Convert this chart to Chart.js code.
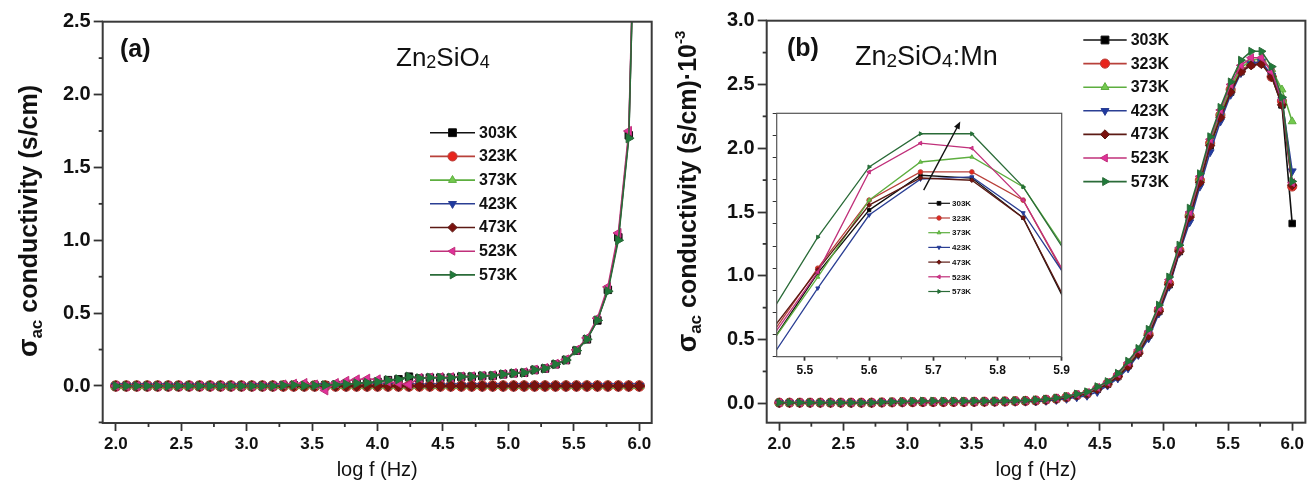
<!DOCTYPE html>
<html><head><meta charset="utf-8">
<script src="https://cdn.jsdelivr.net/npm/chart.js@4.4.1/dist/chart.umd.min.js"></script>
<style>
html,body{margin:0;padding:0;background:#fff;}
#wrap{position:relative;width:1311px;height:488px;overflow:hidden;background:#fff;}
canvas{position:absolute;}
</style></head><body>
<div id="wrap">
<canvas id="ca" width="660" height="488" style="left:0;top:0"></canvas>
<canvas id="cb" width="651" height="488" style="left:660px;top:0"></canvas>
<canvas id="ci" width="310" height="285" style="left:770px;top:105px"></canvas>
</div>
<script>
// ---------------- DATA ----------------
const temps = ['303K','323K','373K','423K','473K','523K','573K'];
const logF = [2.00,2.08,2.16,2.24,2.32,2.40,2.48,2.56,2.64,2.72,2.80,2.88,2.96,3.04,3.12,3.20,3.28,3.36,3.44,3.52,3.60,3.68,3.76,3.84,3.92,4.00,4.08,4.16,4.24,4.32,4.40,4.48,4.56,4.64,4.72,4.80,4.88,4.96,5.04,5.12,5.20,5.28,5.36,5.44,5.52,5.60,5.68,5.76,5.84,5.92,6.00];

// panel (a) Zn2SiO4, sigma_ac (s/cm)
const a303 = [0,0,0,0,0,0,0,0,0,0,0,0,0,0,0,0,0.004,0.005,0.002,0.003,0.005,0.008,0.012,0.018,0.022,0.028,0.040,0.046,0.064,0.053,0.057,0.057,0.057,0.064,0.064,0.069,0.071,0.080,0.087,0.091,0.110,0.120,0.149,0.178,0.243,0.320,0.450,0.660,1.02,1.72,4.50];
const a323 = [0,0,0,0,0,0,0,0,0,0,0,0,0,0,0,0,0,0,0,0,0,0,0,0,0,0,0,0,0,0,0,0,0,0,0,0,0,0,0,0,0,0,0,0,0,0,0,0,0,0,0];
const a373 = [0,0,0,0,0,0,0,0,0,0,0,0,0,0,0,0,0,0,0,0,0,0,0,0,0,0,0,0,0,0,0,0,0,0,0,0,0,0,0,0,0,0,0,0,0,0,0,0,0,0,0];
const a423 = [0,0,0,0,0,0,0,0,0,0,0,0,0,0,0,0,0,0,0,0,0,0,0,0,0,0,0,0,0,0,0,0,0,0,0,0,0,0,0,0,0,0,0,0,0,0,0,0,0,0,0];
const a473 = [0,0,0,0,0,0,0,0,0,0,0,0,0,0,0,0,0,0,0,0,0,0,0,0,0,0,0,0,0,0,0,0,0,0,0,0,0,0,0,0,0,0,0,0,0,0,0,0,0,0,0];
const a523 = [0,0,0,0,0,0,0,0,0,0,0,0,0,0,0,0,0.010,0.015,0.020,0.010,-0.030,0.020,0.035,0.045,0.050,0.045,0.030,0.020,0.010,0.055,0.058,0.060,0.060,0.065,0.066,0.070,0.073,0.082,0.089,0.094,0.112,0.123,0.152,0.182,0.248,0.330,0.465,0.680,1.05,1.75,4.60];
const a573 = [0,0,0,0,0,0,0,0,0,0,0,0,0,0,0,0,0.004,0.006,0.002,0.003,0.005,0.008,0.012,0.018,0.022,0.028,0.040,0.046,0.064,0.053,0.057,0.057,0.057,0.064,0.064,0.069,0.071,0.080,0.087,0.091,0.110,0.120,0.149,0.178,0.243,0.320,0.450,0.650,1.00,1.70,4.50];

// panel (b) Zn2SiO4:Mn, sigma_ac (s/cm)·10^-3
const b303 = [0.004,0.004,0.004,0.004,0.004,0.004,0.004,0.004,0.004,0.004,0.006,0.007,0.008,0.008,0.009,0.009,0.009,0.010,0.010,0.011,0.012,0.013,0.014,0.016,0.018,0.021,0.027,0.035,0.046,0.062,0.075,0.11,0.15,0.21,0.295,0.395,0.535,0.72,0.93,1.19,1.46,1.74,2.02,2.25,2.44,2.60,2.66,2.67,2.56,2.34,1.41];
const b323 = [0.005,0.005,0.005,0.005,0.005,0.005,0.005,0.005,0.005,0.005,0.007,0.008,0.009,0.009,0.010,0.010,0.010,0.011,0.011,0.012,0.013,0.014,0.015,0.017,0.019,0.022,0.028,0.036,0.047,0.063,0.075,0.115,0.155,0.215,0.30,0.40,0.54,0.73,0.94,1.20,1.47,1.75,2.04,2.26,2.46,2.61,2.66,2.67,2.56,2.37,1.70];
const b373 = [0.005,0.005,0.005,0.005,0.005,0.005,0.005,0.005,0.005,0.005,0.007,0.008,0.009,0.010,0.010,0.011,0.011,0.011,0.012,0.012,0.013,0.014,0.015,0.017,0.019,0.023,0.029,0.037,0.049,0.066,0.08,0.12,0.16,0.22,0.31,0.41,0.55,0.74,0.95,1.21,1.49,1.76,2.05,2.28,2.47,2.63,2.69,2.70,2.62,2.46,2.21];
const b423 = [0.003,0.003,0.003,0.003,0.003,0.003,0.003,0.003,0.003,0.003,0.005,0.006,0.006,0.007,0.007,0.008,0.008,0.008,0.009,0.009,0.010,0.011,0.012,0.013,0.014,0.015,0.020,0.027,0.036,0.048,0.06,0.09,0.14,0.196,0.275,0.38,0.51,0.705,0.915,1.18,1.42,1.70,1.97,2.21,2.42,2.59,2.66,2.68,2.57,2.38,1.82];
const b473 = [0.004,0.004,0.004,0.004,0.004,0.004,0.004,0.004,0.004,0.004,0.006,0.007,0.008,0.008,0.009,0.009,0.009,0.010,0.010,0.011,0.012,0.013,0.014,0.016,0.018,0.021,0.027,0.035,0.046,0.062,0.075,0.11,0.15,0.21,0.29,0.39,0.53,0.72,0.93,1.19,1.46,1.73,2.02,2.24,2.44,2.60,2.65,2.66,2.56,2.34,1.71];
const b523 = [0.006,0.006,0.006,0.006,0.006,0.006,0.006,0.006,0.006,0.006,0.009,0.010,0.011,0.012,0.013,0.013,0.013,0.013,0.013,0.014,0.015,0.016,0.017,0.019,0.021,0.025,0.031,0.040,0.052,0.070,0.085,0.125,0.165,0.23,0.32,0.42,0.565,0.75,0.97,1.22,1.50,1.78,2.07,2.30,2.50,2.65,2.71,2.71,2.60,2.38,1.73];
const b573 = [0.006,0.006,0.006,0.006,0.006,0.006,0.006,0.006,0.006,0.006,0.010,0.012,0.014,0.016,0.018,0.018,0.018,0.018,0.017,0.017,0.017,0.018,0.019,0.021,0.023,0.027,0.033,0.042,0.055,0.073,0.09,0.13,0.17,0.235,0.33,0.43,0.58,0.77,0.99,1.24,1.53,1.80,2.09,2.32,2.52,2.69,2.76,2.76,2.64,2.40,1.74];

// inset of panel (b): magnified peak region
const insetLogF = [5.44,5.52,5.60,5.68,5.76,5.84,5.92];
const i303 = [2.412,2.551,2.665,2.728,2.723,2.651,2.466];
const i323 = [2.427,2.560,2.683,2.734,2.734,2.683,2.515];
const i373 = [2.412,2.544,2.683,2.752,2.761,2.707,2.569];
const i423 = [2.385,2.524,2.656,2.721,2.725,2.660,2.521];
const i473 = [2.436,2.557,2.674,2.723,2.719,2.651,2.470];
const i523 = [2.421,2.553,2.734,2.786,2.777,2.683,2.519];
const i573 = [2.466,2.616,2.743,2.803,2.803,2.707,2.564];
const insetArrow = {from:[5.685,2.701], to:[5.742,2.825]};

// tick labels
const xTicks = [2.0,2.5,3.0,3.5,4.0,4.5,5.0,5.5,6.0];
const xMinor = [2.25,2.75,3.25,3.75,4.25,4.75,5.25,5.75];
const yTicksA = [0.0,0.5,1.0,1.5,2.0,2.5];
const yMinorA = [-0.25,0.25,0.75,1.25,1.75,2.25];
const yTicksB = [0.0,0.5,1.0,1.5,2.0,2.5,3.0];
const yMinorB = [0.25,0.75,1.25,1.75,2.25,2.75];
const insetXTicks = [5.5,5.6,5.7,5.8,5.9];
const insetXMinor = [5.55,5.65,5.75,5.85];
const insetYTicks = [2.40,2.44,2.48,2.52,2.56,2.60,2.64,2.68,2.72,2.76,2.80,2.84];

// ---------------- STYLE ----------------
const FONT = '"Liberation Sans", Arial, Helvetica, sans-serif';
const lineColors   = ['#111111','#b8403a','#5dae3f','#2b3f94','#5c1a14','#c0307a','#2a6b38'];
const markerColors = ['#000000','#e8241c','#73c94e','#1f3aa0','#7a120e','#e0309a','#1f7a3a'];
const pointStyles  = ['rect','circle','triangle','triangle','rectRot','triangle','triangle'];
const pointRots    = [0,0,0,180,0,-90,90];

function makeSets(xs, series, r, lw){
  return temps.map((t,i)=>({
    label:t,
    data: xs.map((x,k)=>({x:x, y:series[i][k]})),
    borderColor: lineColors[i], backgroundColor: markerColors[i],
    pointBackgroundColor: markerColors[i], pointBorderColor: lineColors[i],
    pointStyle: pointStyles[i], pointRotation: pointRots[i],
    pointRadius: r, pointBorderWidth: 1, borderWidth: lw,
    tension: 0, order: temps.length-1-i
  }));
}

function drawMarker(ctx, style, rot, x, y, r, fill, stroke){
  ctx.save();
  ctx.translate(x,y);
  ctx.rotate(rot*Math.PI/180);
  ctx.beginPath();
  if(style==='circle'){ ctx.arc(0,0,r,0,Math.PI*2); }
  else if(style==='rect'){ const s=r*0.85; ctx.rect(-s,-s,2*s,2*s); }
  else if(style==='rectRot'){ ctx.moveTo(0,-r); ctx.lineTo(r,0); ctx.lineTo(0,r); ctx.lineTo(-r,0); ctx.closePath(); }
  else { for(let k=0;k<3;k++){ const a=k*2*Math.PI/3; const px=Math.sin(a)*r, py=-Math.cos(a)*r; if(k===0)ctx.moveTo(px,py); else ctx.lineTo(px,py);} ctx.closePath(); }
  ctx.fillStyle=fill; ctx.fill();
  ctx.strokeStyle=stroke; ctx.lineWidth=1; ctx.stroke();
  ctx.restore();
}

function drawRich(ctx, it){
  ctx.save();
  ctx.translate(it.x, it.y);
  if(it.rot) ctx.rotate(it.rot*Math.PI/180);
  ctx.textBaseline='alphabetic';
  ctx.fillStyle = it.color || '#111';
  let total=0;
  it.parts.forEach(p=>{ ctx.font=(p.weight||'normal')+' '+p.size+'px '+FONT; p._w=ctx.measureText(p.t).width; total+=p._w; });
  let x = it.align==='center' ? -total/2 : 0;
  it.parts.forEach(p=>{ ctx.font=(p.weight||'normal')+' '+p.size+'px '+FONT; ctx.fillText(p.t, x, p.dy||0); x+=p._w; });
  ctx.restore();
}

const frameTicks = {
  id:'frameTicks',
  beforeDatasetsDraw(chart, args, o){
    if(!o.fill) return;
    const a=chart.chartArea, ctx=chart.ctx;
    ctx.save(); ctx.fillStyle=o.fill; ctx.fillRect(a.left,a.top,a.right-a.left,a.bottom-a.top); ctx.restore();
  },
  afterDraw(chart, args, o){
    const {ctx, chartArea:a, scales} = chart;
    ctx.save();
    ctx.strokeStyle=o.color; ctx.lineWidth=o.width;
    ctx.strokeRect(a.left, a.top, a.right-a.left, a.bottom-a.top);
    ctx.strokeStyle=o.tickColor; ctx.lineWidth=o.tickWidth;
    (o.minorX||[]).forEach(v=>{ const px=scales.x.getPixelForValue(v); ctx.beginPath(); ctx.moveTo(px,a.bottom); ctx.lineTo(px,a.bottom+o.minorLen); ctx.stroke(); });
    (o.minorY||[]).forEach(v=>{ const py=scales.y.getPixelForValue(v); ctx.beginPath(); ctx.moveTo(a.left,py); ctx.lineTo(a.left-o.minorLen,py); ctx.stroke(); });
    ctx.restore();
  }
};

const texts = {
  id:'texts',
  afterDraw(chart, args, o){ (o.items||[]).forEach(it=>drawRich(chart.ctx, it)); }
};

const legendPl = {
  id:'legendPl',
  afterDraw(chart, args, o){
    const ctx=chart.ctx;
    chart.data.datasets.forEach((ds,i)=>{
      const y=o.y0+i*o.dy;
      ctx.save();
      ctx.strokeStyle=lineColors[i]; ctx.lineWidth=o.lw;
      ctx.beginPath(); ctx.moveTo(o.x0,y); ctx.lineTo(o.x1,y); ctx.stroke();
      drawMarker(ctx, pointStyles[i], pointRots[i], o.xm, y, o.r, markerColors[i], lineColors[i]);
      ctx.fillStyle='#111'; ctx.font='bold '+o.size+'px '+FONT; ctx.textBaseline='middle'; ctx.textAlign='left';
      ctx.fillText(ds.label, o.xt, y+0.5);
      ctx.restore();
    });
  }
};

const arrowPl = {
  id:'arrowPl',
  afterDatasetsDraw(chart, args, o){
    if(!o.arrow) return;
    const {ctx, scales} = chart;
    const x1=scales.x.getPixelForValue(o.arrow.from[0]), y1=scales.y.getPixelForValue(o.arrow.from[1]);
    const x2=scales.x.getPixelForValue(o.arrow.to[0]), y2=scales.y.getPixelForValue(o.arrow.to[1]);
    const ang=Math.atan2(y2-y1,x2-x1), h=8;
    ctx.save();
    ctx.strokeStyle='#111'; ctx.fillStyle='#111'; ctx.lineWidth=1.4;
    ctx.beginPath(); ctx.moveTo(x1,y1); ctx.lineTo(x2-Math.cos(ang)*h*0.7,y2-Math.sin(ang)*h*0.7); ctx.stroke();
    ctx.beginPath(); ctx.moveTo(x2,y2);
    ctx.lineTo(x2-h*Math.cos(ang-0.4), y2-h*Math.sin(ang-0.4));
    ctx.lineTo(x2-h*Math.cos(ang+0.4), y2-h*Math.sin(ang+0.4));
    ctx.closePath(); ctx.fill();
    ctx.restore();
  }
};

function xScaleCfg(min,max,height,ticks,fontSize,tickLen,title){
  return { type:'linear', min:min, max:max,
    afterBuildTicks: s=>{ s.ticks = ticks.map(v=>({value:v})); },
    afterFit: s=>{ s.height=height; s.paddingLeft=0; s.paddingRight=0; },
    border:{display:false},
    grid:{drawOnChartArea:false, drawTicks:true, tickLength:tickLen, tickWidth:1.8, tickColor:'#333'},
    ticks:{autoSkip:false, maxRotation:0, minRotation:0, padding:3, color:'#111',
      font:{family:FONT, size:fontSize, weight:'bold'}, callback:v=>Number(v).toFixed(1)},
    title: title ? {display:true, text:title, color:'#111', font:{family:FONT, size:20}, padding:{top:0,bottom:6}} : {display:false}
  };
}
function yScaleCfg(min,max,width,ticks,fontSize,tickLen,showLabels){
  return { type:'linear', min:min, max:max,
    afterBuildTicks: s=>{ s.ticks = ticks.map(v=>({value:v})); },
    afterFit: s=>{ s.width=width; s.paddingTop=0; s.paddingBottom=0; },
    border:{display:false},
    grid:{drawOnChartArea:false, drawTicks:true, tickLength:tickLen, tickWidth:showLabels?1.8:1, tickColor:'#333'},
    ticks:{autoSkip:false, padding:3, color:'#111', font:{family:FONT, size:fontSize, weight:'bold'},
      callback: v=> showLabels ? Number(v).toFixed(1) : ''},
    title:{display:false}
  };
}

// ---------------- CHART (a) ----------------
new Chart(document.getElementById('ca'), {
  type:'line',
  data:{ datasets: makeSets(logF, [a303,a323,a373,a423,a473,a523,a573], 5.3, 1.6) },
  options:{
    responsive:false, animation:false, devicePixelRatio:1,
    layout:{padding:{top:21.7, right:8.3, left:0, bottom:0}},
    plugins:{
      legend:{display:false}, tooltip:{enabled:false},
      frameTicks:{color:'#3a3a3a', width:2, tickColor:'#333', tickWidth:1.8, minorLen:4, minorX:xMinor, minorY:yMinorA},
      texts:{items:[
        {x:120, y:57, parts:[{t:'(a)', size:25, weight:'bold'}]},
        {x:396, y:66, parts:[{t:'Zn',size:26},{t:'2',size:18,dy:2},{t:'SiO',size:26},{t:'4',size:18,dy:2}]},
        {x:37, y:221, rot:-90, align:'center', parts:[{t:'σ',size:27,weight:'bold'},{t:'ac',size:17,weight:'bold',dy:5},{t:' conductivity (s/cm)',size:25,weight:'bold'}]}
      ]},
      legendPl:{x0:430, x1:475, xm:452.5, xt:479, y0:132.7, dy:23.7, size:16, r:4.6, lw:1.6}
    },
    scales:{
      x: xScaleCfg(1.9, 6.095, 65, xTicks, 17, 8, 'log f (Hz)'),
      y: yScaleCfg(-0.254, 2.5, 102.7, yTicksA, 20, 9, true)
    }
  },
  plugins:[frameTicks, texts, legendPl]
});

// ---------------- CHART (b) ----------------
new Chart(document.getElementById('cb'), {
  type:'line',
  data:{ datasets: makeSets(logF, [b303,b323,b373,b423,b473,b523,b573], 4.6, 1.6) },
  options:{
    responsive:false, animation:false, devicePixelRatio:1,
    layout:{padding:{top:20.7, right:2.7, left:0, bottom:0}},
    plugins:{
      legend:{display:false}, tooltip:{enabled:false},
      frameTicks:{color:'#3a3a3a', width:2, tickColor:'#333', tickWidth:1.8, minorLen:4, minorX:xMinor, minorY:yMinorB},
      texts:{items:[
        {x:127, y:56, parts:[{t:'(b)', size:25, weight:'bold'}]},
        {x:195, y:65, parts:[{t:'Zn',size:27},{t:'2',size:19,dy:2},{t:'SiO',size:27},{t:'4',size:19,dy:2},{t:':Mn',size:27}]},
        {x:36, y:191.5, rot:-90, align:'center', parts:[{t:'σ',size:27,weight:'bold'},{t:'ac',size:17,weight:'bold',dy:5},{t:' conductivity (s/cm)·10',size:25,weight:'bold'},{t:'-3',size:15,weight:'bold',dy:-11}]}
      ]},
      legendPl:{x0:423.3, x1:466.7, xm:445, xt:470.7, y0:40, dy:23.6, size:16, r:4.6, lw:1.6}
    },
    scales:{
      x: xScaleCfg(1.902, 6.103, 65.3, xTicks, 17, 8, 'log f (Hz)'),
      y: yScaleCfg(-0.152, 3.0, 106.7, yTicksB, 20, 9, true)
    }
  },
  plugins:[frameTicks, texts, legendPl]
});

// ---------------- INSET ----------------
new Chart(document.getElementById('ci'), {
  type:'line',
  data:{ datasets: makeSets(insetLogF, [i303,i323,i373,i423,i473,i523,i573], 2.3, 1.3) },
  options:{
    responsive:false, animation:false, devicePixelRatio:1,
    layout:{padding:{top:8.3, right:18.3, left:0, bottom:0}},
    plugins:{
      legend:{display:false}, tooltip:{enabled:false},
      frameTicks:{fill:'#ffffff', color:'#555', width:1.2, tickColor:'#555', tickWidth:1, minorLen:2.5, minorX:insetXMinor, minorY:[]},
      legendPl:{x0:158.3, x1:180, xm:169, xt:182, y0:98.3, dy:14.7, size:8, r:2.2, lw:1.2},
      arrowPl:{arrow:insetArrow}
    },
    scales:{
      x: xScaleCfg(5.456, 5.9, 33.3, insetXTicks, 12, 4, null),
      y: yScaleCfg(2.40, 2.84, 6.7, insetYTicks, 8, 4, false)
    }
  },
  plugins:[frameTicks, legendPl, arrowPl]
});
</script>
</body></html>
